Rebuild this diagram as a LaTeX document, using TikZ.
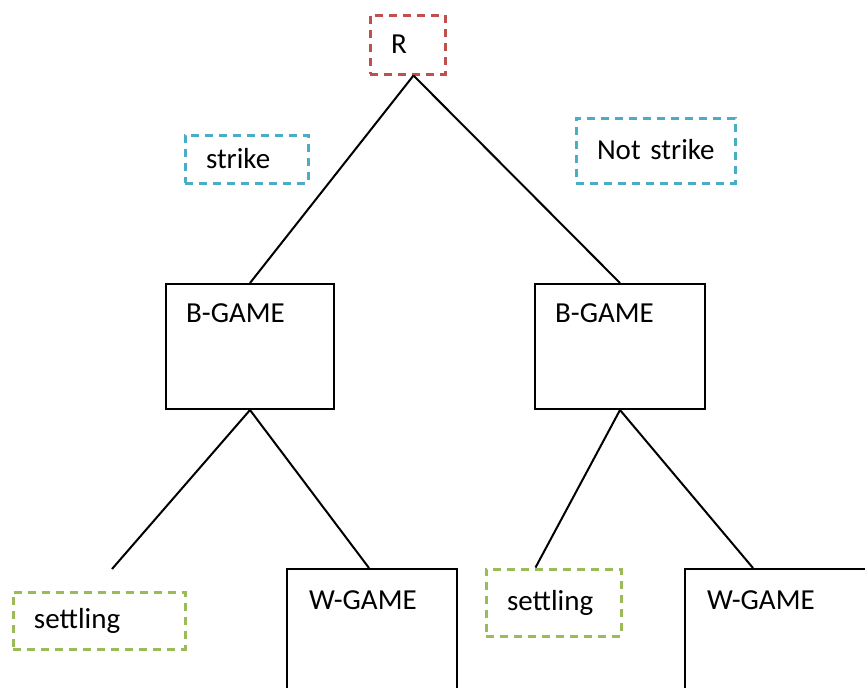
\documentclass[tikz,border=0pt]{standalone}
\usepackage{fontspec}
\setmainfont{Carlito}
\usetikzlibrary{positioning}
\definecolor{tagRed}{HTML}{C0504D}
\definecolor{tagCyan}{HTML}{4BACC6}
\definecolor{tagGreen}{HTML}{9BBB59}
\tikzset{
    font=\fontsize{29}{34}\selectfont,
    % Dashed tags
    tag/.style={rectangle, draw, line width=3pt, dash pattern=on 8pt off 6pt,
                align=left, inner xsep=21pt, inner ysep=0pt},
    tagR/.style={tag, draw=tagRed},
    tagC/.style={tag, draw=tagCyan},
    tagG/.style={tag, draw=tagGreen},
    % Game boxes
    game/.style={rectangle, draw, line width=2pt, inner sep=0pt},
    gameText/.style={anchor=north west, inner sep=0pt, xshift=21pt, yshift=-20pt},
    % Edges
    branch/.style={line width=2pt}
}
\begin{document}
\begin{tikzpicture}[x=1pt, y=-1pt]
\clip (0,0) rectangle (865,688);

\node[tagR, text width=33, minimum height=59] (root) at (407.5,44.5) {R};
\node[tagC, text width=81, minimum height=48] (strike) at (246.5,159) {\raisebox{-4pt}{strike}};
\node[tagC, text width=117, minimum height=65] (notstrike) at (655.5,150.5) {\raisebox{2pt}{\mbox{Not strike}}};

\node[game, minimum width=168, minimum height=125,
      label={[gameText]north west:B-GAME}] (bgL) at (250,346.5) {};
\node[game, minimum width=170, minimum height=125,
      label={[gameText]north west:B-GAME}] (bgR) at (620,346.5) {};

\node[tagG, text width=130, minimum height=57] (settleL) at (99,620.5) {settling};
\node[tagG, text width=93, minimum height=67] (settleR) at (553.5,602.5) {settling};
\coordinate (settleLtop) at (112,569);

\node[game, minimum width=170, minimum height=170,
      label={[gameText, xshift=2pt, yshift=-2pt]north west:W-GAME}] (wgL) at (372,654) {};
\node[game, minimum width=200, minimum height=170,
      label={[gameText, xshift=2pt, yshift=-2pt]north west:W-GAME}] (wgR) at (785,654) {};

\draw[branch] ([xshift=45]root.south west) -- (bgL.north);
\draw[branch] ([xshift=45]root.south west) -- (bgR.north);
\draw[branch] (bgL.south) -- (settleLtop);
\draw[branch] (bgL.south) -- ([xshift=83]wgL.north west);
\draw[branch] (bgR.south) -- ([xshift=51]settleR.north west);
\draw[branch] (bgR.south) -- ([xshift=69]wgR.north west);

\end{tikzpicture}
\end{document}
